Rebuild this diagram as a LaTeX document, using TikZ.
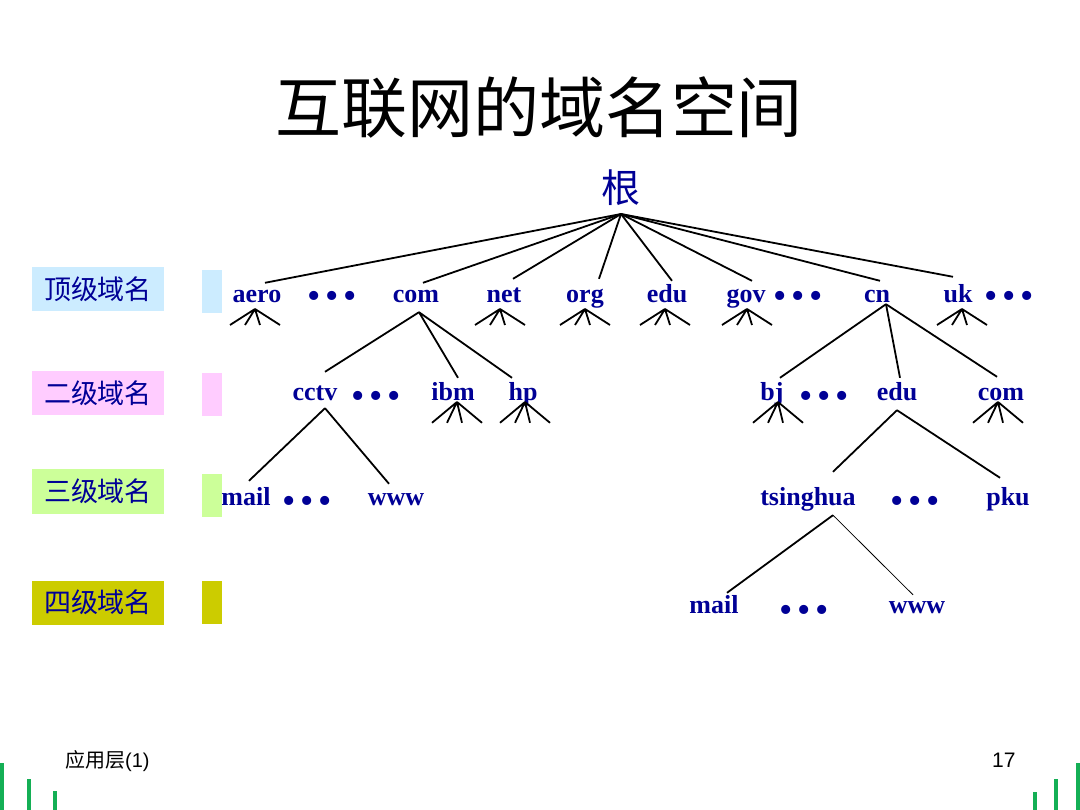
\documentclass[tikz,border=0pt]{standalone}
\usepackage{fontspec}
\setmainfont{Liberation Serif}
\newfontfamily\cjk{Noto Sans CJK SC}
\newfontfamily\arial{Liberation Sans}
\definecolor{navy}{RGB}{0,0,150}
\definecolor{lvA}{RGB}{204,236,255}
\definecolor{lvB}{RGB}{255,204,255}
\definecolor{lvC}{RGB}{204,255,153}
\definecolor{lvD}{RGB}{204,204,0}
\definecolor{slidegreen}{RGB}{20,175,85}
\newcommand{\tridots}{•\hspace{4.5pt}•\hspace{4.5pt}•}
\begin{document}
\begin{tikzpicture}[x=1pt,y=-1pt,
  lbl/.style={font=\fontsize{26}{26}\selectfont\bfseries, text=navy, inner sep=0pt, text height=20pt, text depth=5pt, anchor=base},
  dotsn/.style={font=\fontsize{38}{38}\selectfont, text=navy, inner sep=0pt, anchor=base},
  edge/.style={line width=1.8pt, black},
  thinedge/.style={line width=0.8pt, black},
  side/.style={font=\cjk\fontsize{27}{27}\selectfont, text=navy, inner sep=0pt, minimum width=132pt, minimum height=44pt},
  sidebar/.style={inner sep=0pt, minimum width=20pt, minimum height=43pt},
  fan/.pic={\draw[edge] (0,0) -- (-25,16) (0,0) -- (-10,16) (0,0) -- (5,16) (0,0) -- (25,16);}
]
\useasboundingbox[fill=white] (0,0) rectangle (1080,810);

% title and root
\node[font=\cjk\fontsize{66}{66}\selectfont, inner sep=0pt] (title) at (539,107) {互联网的域名空间};
\node[font=\cjk\fontsize{39}{39}\selectfont, text=navy, inner sep=0pt, anchor=base] (root) at (621,203) {根};
\coordinate (r) at ([yshift=-11pt]root.base);

% side labels
\node[side, fill=lvA] (s1) at (98,289) {顶级域名};
\node[side, fill=lvB] (s2) at (98,393.5) {二级域名};
\node[side, fill=lvC] (s3) at (98,491.5) {三级域名};
\node[side, fill=lvD] (s4) at (98,602.5) {四级域名};
\node[sidebar, fill=lvA] (b1) at (212,291.5) {};
\node[sidebar, fill=lvB] (b2) at (212,394.5) {};
\node[sidebar, fill=lvC] (b3) at (212,495.5) {};
\node[sidebar, fill=lvD] (b4) at (212,602.5) {};

% level 1
\node[lbl] (aero) at (257,303) {aero};
\node[dotsn] (d1) at (332,309) {\tridots};
\node[lbl] (com) at (416,303) {com};
\node[lbl] (net) at (504,303) {net};
\node[lbl] (org) at (585,303) {org};
\node[lbl] (edu) at (667,303) {edu};
\node[lbl] (gov) at (746,303) {gov};
\node[dotsn] (d2) at (798,309) {\tridots};
\node[lbl] (cn) at (877,303) {cn};
\node[lbl] (uk) at (958,303) {uk};
\node[dotsn] (d3) at (1009,309) {\tridots};

% level 2
\node[lbl] (cctv) at (315,401) {cctv};
\node[dotsn] (d4) at (376,409) {\tridots};
\node[lbl] (ibm) at (453,401) {ibm};
\node[lbl] (hp) at (523,401) {hp};
\node[lbl] (bj) at (772,401) {bj};
\node[dotsn] (d5) at (824,409) {\tridots};
\node[lbl] (edu2) at (897,401) {edu};
\node[lbl] (com2) at (1001,401) {com};

% level 3
\node[lbl] (mail) at (246,505) {mail};
\node[dotsn] (d6) at (307,513) {\tridots};
\node[lbl] (www) at (396,505) {www};
\node[lbl] (tsinghua) at (808,505) {tsinghua};
\node[dotsn] (d7) at (915,513) {\tridots};
\node[lbl] (pku) at (1008,505) {pku};

% level 4
\node[lbl] (mail2) at (714,613) {mail};
\node[dotsn] (d8) at (804,622) {\tridots};
\node[lbl] (www2) at (917,613) {www};

% root edges
\draw[edge] (r) -- ([xshift=8pt]aero.north);
\draw[edge] (r) -- ([xshift=7pt]com.north);
\draw[edge] (r) -- ([xshift=9pt,yshift=4pt]net.north);
\draw[edge] (r) -- ([xshift=14pt,yshift=4pt]org.north);
\draw[edge] (r) -- ([xshift=5pt,yshift=2pt]edu.north);
\draw[edge] (r) -- ([xshift=6pt,yshift=2pt]gov.north);
\draw[edge] (r) -- ([xshift=3pt,yshift=2pt]cn.north);
\draw[edge] (r) -- ([xshift=-5pt,yshift=6pt]uk.north);

% com subtree
\coordinate (comB) at ([xshift=3pt,yshift=-4pt]com.south);
\draw[edge] (comB) -- ([xshift=10pt,yshift=9pt]cctv.north);
\draw[edge] (comB) -- ([xshift=5pt,yshift=3pt]ibm.north);
\draw[edge] (comB) -- ([xshift=-11pt,yshift=3pt]hp.north);

% cn subtree
\coordinate (cnB) at ([xshift=9pt,yshift=4pt]cn.south);
\draw[edge] (cnB) -- ([xshift=8pt,yshift=3pt]bj.north);
\draw[edge] (cnB) -- ([xshift=3pt,yshift=3pt]edu2.north);
\draw[edge] (cnB) -- ([xshift=-4pt,yshift=4pt]com2.north);

% cctv subtree
\coordinate (cctvB) at ([xshift=10pt,yshift=-2pt]cctv.south);
\draw[edge] (cctvB) -- ([xshift=3pt,yshift=4pt]mail.north);
\draw[edge] (cctvB) -- ([xshift=-7pt,yshift=1pt]www.north);

% edu.cn subtree
\coordinate (eduB) at ([yshift=-4pt]edu2.south);
\draw[edge] (eduB) -- ([xshift=25pt,yshift=13pt]tsinghua.north);
\draw[edge] (eduB) -- ([xshift=-8pt,yshift=7pt]pku.north);

% tsinghua subtree
\coordinate (tsB) at ([xshift=25pt,yshift=-5pt]tsinghua.south);
\draw[edge] (tsB) -- ([xshift=13pt]mail2.north);
\draw[thinedge] (tsB) -- ([xshift=-4pt,yshift=-2pt]www2.north);

% fans
\pic at ([xshift=-2pt,yshift=-6pt]aero.base) {fan};
\pic at ([xshift=-4pt,yshift=-6pt]net.base) {fan};
\pic at ([yshift=-6pt]org.base) {fan};
\pic at ([xshift=-2pt,yshift=-6pt]edu.base) {fan};
\pic at ([xshift=1pt,yshift=-6pt]gov.base) {fan};
\pic at ([xshift=4pt,yshift=-6pt]uk.base) {fan};
\pic[yscale=1.3] at ([xshift=4pt,yshift=-1pt]ibm.base) {fan};
\pic[yscale=1.3] at ([xshift=2pt,yshift=-1pt]hp.base) {fan};
\pic[yscale=1.3] at ([xshift=6pt,yshift=-1pt]bj.base) {fan};
\pic[yscale=1.3] at ([xshift=-3pt,yshift=-1pt]com2.base) {fan};

% footer
\node[font=\fontsize{20}{20}\selectfont, inner sep=0pt, anchor=base west] (foot) at (65,767) {{\cjk 应用层}{\arial (1)}};
\node[font=\arial\fontsize{21}{21}\selectfont, inner sep=0pt, anchor=base west] (page) at (992,767) {17};

% decorative bars
\fill[slidegreen] (0,763) rectangle (4,810);
\fill[slidegreen] (27,779) rectangle (31,810);
\fill[slidegreen] (53,791) rectangle (57,810);
\fill[slidegreen] (1033,792) rectangle (1037,810);
\fill[slidegreen] (1054,779) rectangle (1058,810);
\fill[slidegreen] (1076,763) rectangle (1080,810);
\end{tikzpicture}
\end{document}
